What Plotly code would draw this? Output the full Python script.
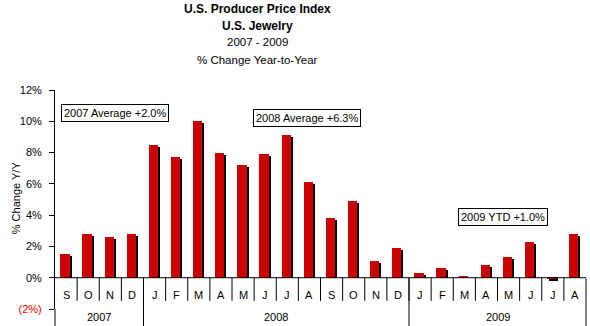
import plotly.graph_objects as go

# ---- data ----
month_labels = ["S", "O", "N", "D",
                "J", "F", "M", "A", "M", "J", "J", "A", "S", "O", "N", "D",
                "J", "F", "M", "A", "M", "J", "J", "A"]
pct_change = [1.5, 2.8, 2.6, 2.8,
              8.5, 7.7, 10.0, 8.0, 7.2, 7.9, 9.1, 6.1, 3.8, 4.9, 1.1, 1.9,
              0.3, 0.6, 0.1, 0.8, 1.3, 2.3, -0.1, 2.8]
year_labels = ["2007", "2008", "2009"]
year_counts = [4, 12, 8]
y_tickvals = [-2, 0, 2, 4, 6, 8, 10, 12]
y_ticktext = ['<span style="color:#FF0000">(2%)</span>', "0%", "2%", "4%", "6%", "8%", "10%", "12%"]
notes = [("2007 Average +2.0%", 2.22, 10.5),
         ("2008 Average +6.3%", 10.87, 10.18),
         ("2009 YTD +1.0%", 19.77, 3.85)]

FONT = "Liberation Sans, Arial, sans-serif"
RED = "#CC0000"
x = list(range(len(pct_change)))
shadow_drop = 0.128  # ~2px drop of the shadow
shadow = [max(v - shadow_drop, 0) if v > 0 else v - shadow_drop for v in pct_change]

fig = go.Figure()
fig.add_trace(go.Bar(x=x, y=shadow, marker=dict(color="black", line=dict(width=0)),
                     width=0.42, offset=-0.172, hoverinfo="skip", showlegend=False))
fig.add_trace(go.Bar(x=x, y=pct_change, marker=dict(color=RED, line=dict(width=0)),
                     width=0.42, offset=-0.262, showlegend=False))

shapes = []
# zero line (category axis)
shapes.append(dict(type="line", xref="paper", yref="y", x0=0, x1=1, y0=0, y1=0,
                   line=dict(color="black", width=1), layer="above"))
# category separators
for i in range(1, len(x)):
    shapes.append(dict(type="line", xref="x", yref="y", x0=i - 0.5, x1=i - 0.5,
                       y0=0, y1=-1.48, line=dict(color="black", width=1)))
# year group separators
bounds = [0]
for c in year_counts:
    bounds.append(bounds[-1] + c)
for b in bounds:
    if b == 0:
        shapes.append(dict(type="line", xref="paper", yref="paper", x0=0, x1=0,
                           y0=0, y1=-0.08, line=dict(color="black", width=1)))
    elif b == len(x):
        shapes.append(dict(type="line", xref="paper", yref="paper", x0=1, x1=1,
                           y0=0.14, y1=-0.08, line=dict(color="black", width=1)))
    else:
        shapes.append(dict(type="line", xref="x", yref="paper", x0=b - 0.5, x1=b - 0.5,
                           y0=0.14, y1=-0.08, line=dict(color="black", width=1)))

annotations = []
for i, m in enumerate(month_labels):
    annotations.append(dict(x=i, y=-1.08, xref="x", yref="y", text=m, showarrow=False,
                            font=dict(family=FONT, size=11, color="black")))
for k, yl in enumerate(year_labels):
    center = (bounds[k] + bounds[k + 1] - 1) / 2
    annotations.append(dict(x=center, y=-0.037, xref="x", yref="paper", text=yl,
                            showarrow=False, yanchor="middle",
                            font=dict(family=FONT, size=11, color="black")))
for txt, nx, ny in notes:
    annotations.append(dict(x=nx, y=ny, xref="x", yref="y", text=txt, showarrow=False,
                            bordercolor="black", borderwidth=1, borderpad=2, bgcolor="white",
                            font=dict(family=FONT, size=11, color="black")))
# titles
title_lines = [("<b>U.S. Producer Price Index</b>", 1.370, 12),
               ("<b>U.S. Jewelry</b>", 1.292, 12),
               ("2007 - 2009", 1.219, 11.5),
               ("% Change Year-to-Year", 1.137, 11.5)]
for t, ty, fs in title_lines:
    annotations.append(dict(x=0.382, y=ty, xref="paper", yref="paper", text=t,
                            showarrow=False, yanchor="middle",
                            font=dict(family=FONT, size=fs, color="black")))
annotations.append(dict(x=-0.088, y=0.507, xref="paper", yref="paper", text="% Change Y/Y",
                        textangle=-90, showarrow=False,
                        font=dict(family=FONT, size=11, color="black")))

fig.update_layout(
    width=590, height=326,
    margin=dict(l=55, r=4, t=90, b=17),
    paper_bgcolor="white", plot_bgcolor="white",
    barmode="overlay", bargap=0,
    showlegend=False,
    shapes=shapes, annotations=annotations,
    xaxis=dict(range=[-0.5, 23.5], visible=False, fixedrange=True),
    yaxis=dict(range=[-2, 12], tickvals=y_tickvals, ticktext=y_ticktext,
               showgrid=False, zeroline=False, showline=True, linecolor="black",
               linewidth=1, ticks="outside", ticklen=5, tickcolor="black",
               ticklabelstandoff=5,
               tickfont=dict(family=FONT, size=11, color="black"), fixedrange=True),
)

fig.write_html("out.html")
